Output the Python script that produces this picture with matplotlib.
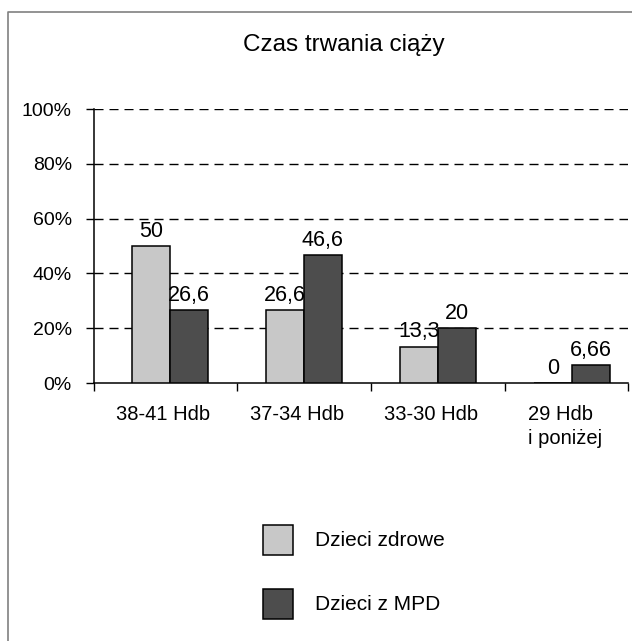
import matplotlib.pyplot as plt
from matplotlib.patches import Rectangle
from matplotlib.lines import Line2D
import numpy as np

plt.rcParams['font.family'] = ['Liberation Sans', 'DejaVu Sans']

# Dane z wykresu
categories = ['38-41 Hdb', '37-34 Hdb', '33-30 Hdb', '29 Hdb\ni poniżej']
zdrowe = [50, 26.6, 13.3, 0]
mpd = [26.6, 46.6, 20, 6.66]
series_names = ['Dzieci zdrowe', 'Dzieci z MPD']
colors = ['#c8c8c8', '#4d4d4d']
y_ticks = [0, 20, 40, 60, 80, 100]


def fmt(v):
    if v == int(v):
        return str(int(v))
    return str(v).replace('.', ',')


fig = plt.figure(figsize=(6.32, 6.41), dpi=100)
ax = fig.add_axes([94 / 632, 1 - 383 / 641, 534 / 632, 274 / 641])

x = np.arange(len(categories))
w = 0.28
for vals, off, col in [(zdrowe, -w / 2, colors[0]), (mpd, w / 2, colors[1])]:
    bars = ax.bar(x + off, vals, width=w, color=col, edgecolor='black',
                  linewidth=1.1, zorder=3)
    for b, v in zip(bars, vals):
        ax.text(b.get_x() + b.get_width() / 2, v + 1.5, fmt(v),
                ha='center', va='bottom', fontsize=15.5, zorder=4)

ax.set_xlim(-0.567, 3.418)
ax.set_ylim(0, 100)
ax.set_yticks(y_ticks)
ax.set_yticklabels([f'{t}%' for t in y_ticks], fontsize=14)
for t in y_ticks[1:]:
    ax.axhline(t, color='black', linestyle=(0, (6.5, 4.3)), linewidth=1,
               zorder=1)

ax.set_xticks([-0.567, 0.5, 1.5, 2.5, 3.418])
ax.set_xticklabels([])
ax.tick_params(axis='both', direction='out', length=6, width=1)
ax.tick_params(axis='y', pad=10)
for i, c in enumerate(categories):
    ax.text(i - 0.05, -8, c, ha='center', va='top', fontsize=14.5,
            multialignment='left', linespacing=1.35)

for s in ['top', 'right']:
    ax.spines[s].set_visible(False)
for s in ['left', 'bottom']:
    ax.spines[s].set_linewidth(1.1)

fig.text(344 / 632, 1 - 45 / 641, 'Czas trwania ciąży', ha='center',
         va='center', fontsize=17.5)

# Legenda
for i, (name, col) in enumerate(zip(series_names, colors)):
    yc = 540 + i * 64
    fig.patches.append(Rectangle((263 / 632, 1 - (yc + 15) / 641), 30 / 632,
                                 30 / 641, transform=fig.transFigure,
                                 facecolor=col, edgecolor='black',
                                 linewidth=1.1))
    fig.text(315 / 632, 1 - yc / 641, name, ha='left', va='center',
             fontsize=15)

# Ramka
fig.lines.append(Line2D([7.5 / 632, 7.5 / 632, 1], [0, 1 - 12 / 641, 1 - 12 / 641],
                        transform=fig.transFigure, color='#808080',
                        linewidth=1.2))

fig.savefig('out.png', dpi=100)
